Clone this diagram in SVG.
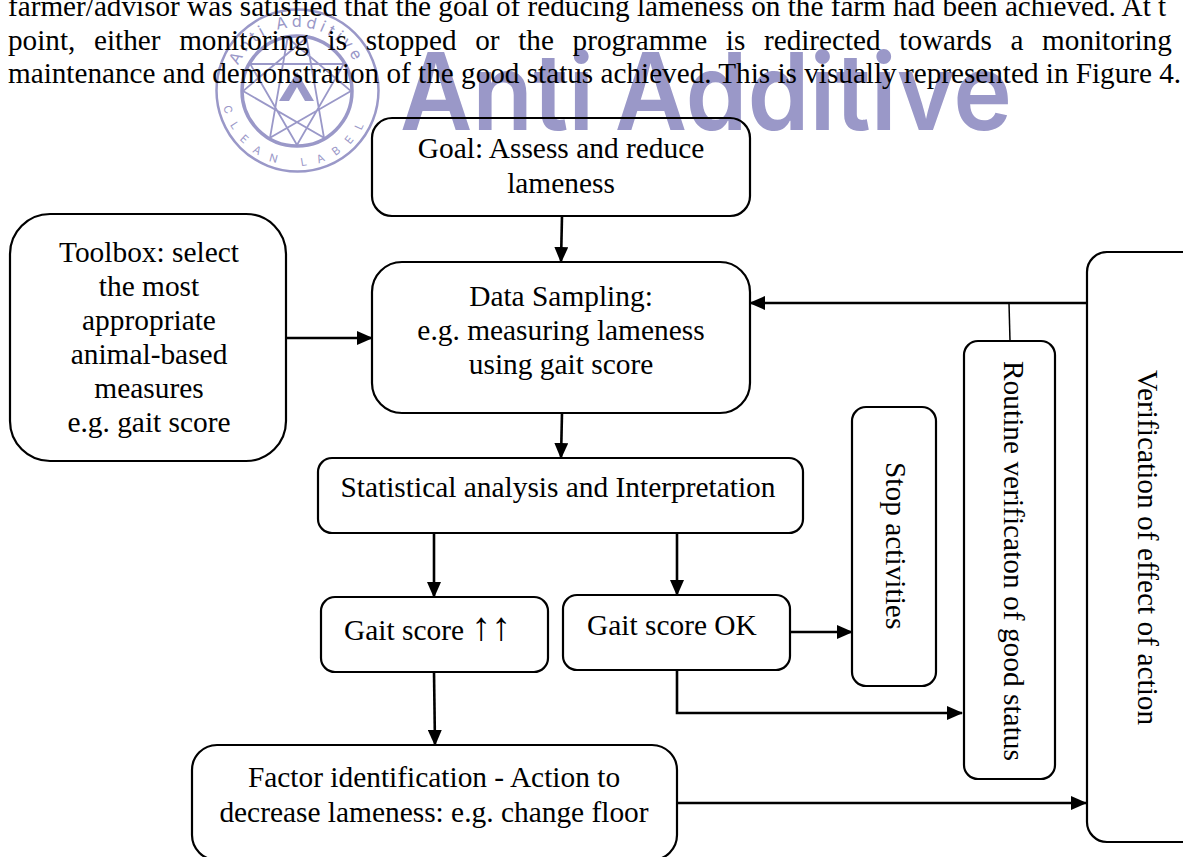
<svg xmlns="http://www.w3.org/2000/svg" width="1183" height="857" viewBox="0 0 1183 857">
<style>
.t{font-family:"Liberation Serif","Times New Roman",serif;font-size:29.400px;fill:#000}
.i{font-size:29.200px}
.m{text-anchor:middle}
.b{fill:none;stroke:#000;stroke-width:2.200}
.c{fill:none;stroke:#000;stroke-width:2.600}
.w{fill:#9a98c8;font-family:Inter,"Liberation Sans",sans-serif}
.r{fill:none;stroke:#9a98c8}
</style>
<defs>
<marker id="a" markerUnits="userSpaceOnUse" markerWidth="16" markerHeight="14" refX="15" refY="7" orient="auto"><path d="M0 0L16 7L0 14Z" fill="#000"/></marker>
<path id="at" d="M233 91A64 64 0 0 1 361 91"/>
<path id="ab" d="M222 91A75 75 0 0 0 372 91"/>
</defs>
<rect width="1183" height="857" fill="#fff"/>
<g id="watermark">
<circle class="r" cx="297.500" cy="90.500" r="81" stroke-width="2.500"/>
<circle class="r" cx="297" cy="91" r="55" stroke-width="3.500"/>
<path class="r" stroke-width="1.800" d="M351 91L270 137.800L287.600 37.800ZM243 91L324 137.800L306.400 37.800ZM297 145L250.200 64H343.800Z"/>
<path fill="#9a98c8" d="M297 72L314 101H305L297 87L289 101H279Z"/>
<text class="w" font-size="16" letter-spacing="4"><textPath href="#at" startOffset="26">Anti Additive</textPath></text>
<text class="w" font-size="11" letter-spacing="11"><textPath href="#ab" startOffset="16">CLEAN LABEL</textPath></text>
<text class="w" x="400" y="130" font-size="107" font-weight="600" word-spacing="-5" textLength="612" lengthAdjust="spacingAndGlyphs">Anti Additive</text>
</g>
<g id="intro">
<text class="t i" x="8" y="16">farmer/advisor was satisfied that the goal of reducing lameness on the farm had been achieved. At t</text>
<text class="t i" x="8" y="50" word-spacing="11.400">point, either monitoring is stopped or the programme is redirected towards a monitoring</text>
<text class="t i" x="8" y="83">maintenance and demonstration of the good status achieved. This is visually represented in Figure 4.</text>
</g>
<g id="connectors">
<path class="c" marker-end="url(#a)" d="M562 216L561 262"/>
<path class="c" marker-end="url(#a)" d="M286 338H372"/>
<path class="c" marker-end="url(#a)" d="M1087 303H750"/>
<path class="c" style="stroke-width:1.500" d="M1009 303L1010 341"/>
<path class="c" marker-end="url(#a)" d="M562 413L561 458"/>
<path class="c" marker-end="url(#a)" d="M434 533V597"/>
<path class="c" marker-end="url(#a)" d="M677 533V595"/>
<path class="c" marker-end="url(#a)" d="M790 632H852"/>
<path class="c" marker-end="url(#a)" d="M677 670V713H962"/>
<path class="c" marker-end="url(#a)" d="M434 672L435 745"/>
<path class="c" marker-end="url(#a)" d="M677 803H1086"/>
</g>
<g id="goal"><rect class="b" x="372" y="118" width="378" height="98" rx="20"/>
<text class="t m" x="561" y="158">Goal: Assess and reduce</text><text class="t m" x="561" y="193">lameness</text></g>
<g id="toolbox"><rect class="b" x="10" y="214" width="276" height="247" rx="40"/>
<text class="t m" x="149" y="262">Toolbox: select</text><text class="t m" x="149" y="296">the most</text><text class="t m" x="149" y="330">appropriate</text><text class="t m" x="149" y="364">animal-based</text><text class="t m" x="149" y="398">measures</text><text class="t m" x="149" y="432">e.g. gait score</text></g>
<g id="sampling"><rect class="b" x="372" y="262" width="378" height="151" rx="30"/>
<text class="t m" x="561" y="306">Data Sampling:</text><text class="t m" x="561" y="340">e.g. measuring lameness</text><text class="t m" x="561" y="374">using gait score</text></g>
<g id="analysis"><rect class="b" x="318" y="458" width="485" height="75" rx="14"/>
<text class="t m" x="558" y="497">Statistical analysis and Interpretation</text></g>
<g id="gait-high"><rect class="b" x="321" y="597" width="227" height="75" rx="14"/>
<text class="t" x="344" y="640">Gait score <tspan font-size="40">↑↑</tspan></text></g>
<g id="gait-ok"><rect class="b" x="563" y="595" width="227" height="75" rx="14"/>
<text class="t" x="587" y="635">Gait score OK</text></g>
<g id="stop"><rect class="b" x="852" y="407" width="84" height="279" rx="14"/>
<text class="t" transform="translate(886 462) rotate(90)">Stop activities</text></g>
<g id="routine"><rect class="b" x="964" y="341" width="91" height="438" rx="14"/>
<text class="t" transform="translate(1004 361) rotate(90)">Routine verificaton of good status</text></g>
<g id="verification"><rect class="b" x="1087" y="252" width="120" height="590" rx="20"/>
<text class="t" transform="translate(1138 370) rotate(90)">Verification of effect of action</text></g>
<g id="factor"><rect class="b" x="192" y="745" width="485" height="115" rx="25"/>
<text class="t m" x="434" y="787">Factor identification - Action to</text><text class="t m" x="434" y="822">decrease lameness: e.g. change floor</text></g>
</svg>
